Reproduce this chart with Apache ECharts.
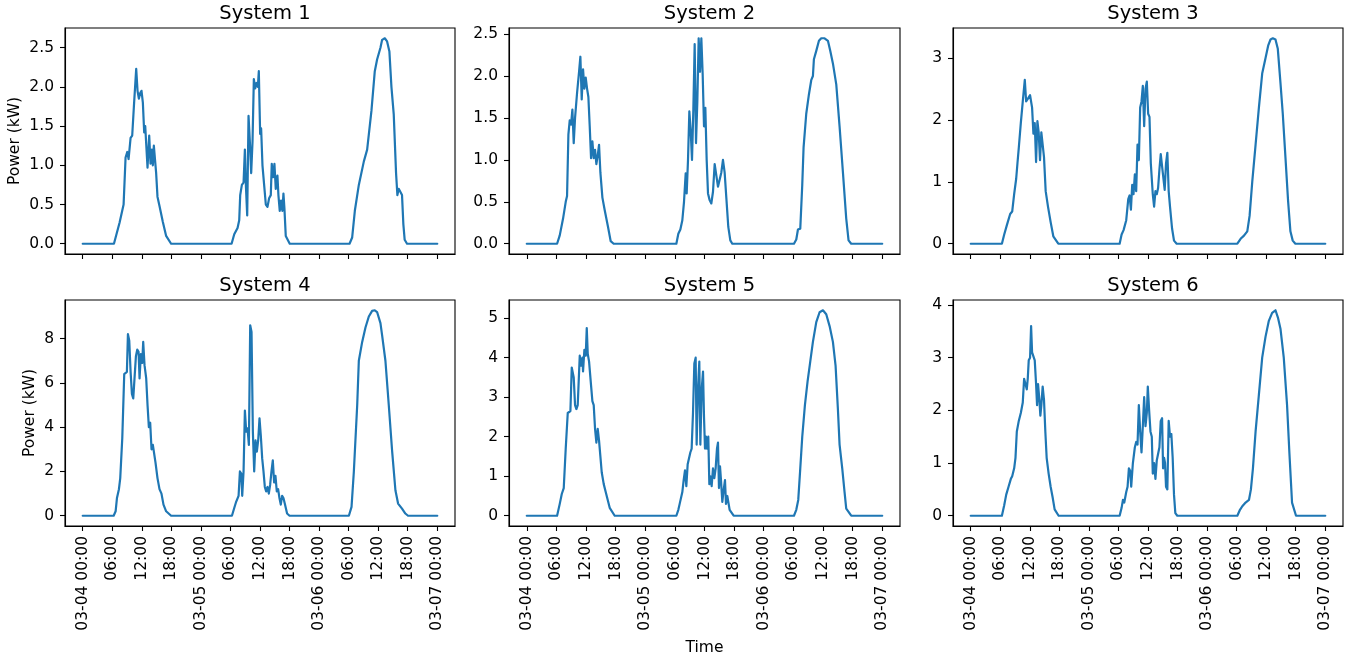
<!DOCTYPE html>
<html>
<head>
<meta charset="utf-8">
<script src="https://cdn.jsdelivr.net/npm/echarts@6/dist/echarts.min.js"></script>
<style>
html,body{margin:0;padding:0;background:#fff;}
#chart{width:1364px;height:660px;}
</style>
</head>
<body>
<div id="chart"></div>
<script>
// ---- DATA (hours since 03-04 00:00, power in kW) ----
const titles = ['System 1','System 2','System 3','System 4','System 5','System 6'];
const xTickHours = [0,6,12,18,24,30,36,42,48,54,60,66,72];
const xTickLabels = ['03-04 00:00','06:00','12:00','18:00','03-05 00:00','06:00','12:00','18:00','03-06 00:00','06:00','12:00','18:00','03-07 00:00'];
const yTicks1 = [0,0.5,1,1.5,2,2.5];
const yTicks2 = [0,0.5,1,1.5,2,2.5];
const yTicks3 = [0,1,2,3];
const yTicks4 = [0,2,4,6,8];
const yTicks5 = [0,1,2,3,4,5];
const yTicks6 = [0,1,2,3,4];
const yDecimals = [1,1,0,0,0,0];

const t1 = [0,6.34,7.49,8.30,8.70,9.04,9.31,9.72,10.05,10.39,10.86,11.13,11.40,11.67,11.94,12.21,12.48,12.69,12.96,13.16,13.50,13.77,14.04,14.24,14.44,14.71,14.91,15.18,15.59,16.26,16.94,17.95,
30.23,30.77,31.44,31.78,31.98,32.32,32.66,32.93,33.13,33.40,33.67,33.94,34.21,34.48,34.75,35.02,35.29,35.56,35.76,36.03,36.23,36.50,36.84,37.18,37.52,37.85,38.19,38.39,38.66,38.93,39.20,39.54,39.74,40.01,40.28,40.55,40.76,40.96,41.23,42.04,
54.18,54.72,55.26,56.07,57.09,57.76,58.64,59.31,59.78,60.46,60.80,61.34,61.81,62.28,62.69,63.16,63.63,63.90,64.17,64.51,64.84,65.11,65.38,65.86,66.19,72];
const p1 = [0,0,0.27,0.5,1.1,1.17,1.08,1.35,1.38,1.75,2.23,1.95,1.85,1.92,1.95,1.8,1.42,1.5,1.5,0.97,1.38,1.02,1.2,1.0,1.25,1.24,0.9,0.6,0.48,0.28,0.1,0,
0,0.12,0.2,0.3,0.62,0.75,0.78,1.2,0.75,0.36,1.63,1.3,0.9,1.3,2.1,1.98,2.05,2.0,2.2,1.4,1.47,1.0,0.75,0.5,0.47,0.58,0.62,1.02,0.85,1.02,0.7,0.87,0.62,0.42,0.55,0.42,0.64,0.45,0.1,0,
0,0.08,0.42,0.75,1.05,1.2,1.7,2.2,2.35,2.5,2.6,2.62,2.58,2.45,2.0,1.65,0.9,0.62,0.7,0.7,0.62,0.25,0.05,0,0,0];

const t2 = [0,6.14,6.68,7.35,7.89,8.16,8.43,8.70,8.97,9.24,9.51,9.78,10.19,10.59,10.86,11.13,11.40,11.67,11.94,12.21,12.48,12.75,13.02,13.29,13.56,13.83,14.10,14.37,14.64,14.91,15.32,15.79,16.46,17.0,17.6,
30.30,30.70,31.11,31.51,31.85,32.19,32.39,32.66,32.93,33.20,33.47,33.74,34.01,34.28,34.55,34.82,35.09,35.36,35.63,35.90,36.17,36.44,36.71,37.04,37.38,37.72,38.06,38.39,38.73,39.07,39.41,39.74,40.08,40.42,40.82,41.23,41.63,
54.12,54.59,54.93,55.40,55.80,56.07,56.61,57.15,57.62,57.96,58.16,58.64,59.18,59.65,60.32,61.00,61.47,62.01,62.69,63.36,64.04,64.71,65.18,65.72,72];
const p2 = [0,0,0.1,0.3,0.5,0.57,1.3,1.47,1.42,1.6,1.2,1.5,1.8,2.05,2.23,1.72,2.08,1.85,1.98,1.85,1.75,1.4,1.02,1.22,1.02,1.12,0.95,1.05,1.18,0.85,0.55,0.4,0.2,0.03,0,
0,0.12,0.17,0.28,0.5,0.84,0.6,1.0,1.58,1.35,1.0,1.6,2.38,1.2,1.7,2.45,2.05,2.45,2.02,1.4,1.62,1.0,0.6,0.52,0.48,0.62,0.95,0.95,0.68,0.7,0.85,1.0,0.85,0.55,0.2,0.04,0,
0,0.05,0.17,0.18,0.7,1.15,1.55,1.78,1.95,2.0,2.2,2.3,2.42,2.45,2.45,2.42,2.3,2.15,1.9,1.4,0.85,0.3,0.04,0,0];

const t3 = [0,6.33,6.80,7.34,8.01,8.42,8.82,9.23,9.49,9.76,10.17,10.57,10.98,11.25,11.65,12.05,12.46,12.73,13.00,13.27,13.54,13.80,14.07,14.34,14.61,14.88,15.22,15.69,16.23,16.77,17.78,
30.24,30.64,31.04,31.58,31.99,32.26,32.53,32.79,33.06,33.33,33.60,33.87,34.14,34.41,34.68,34.95,35.22,35.49,35.76,36.03,36.30,36.57,36.97,37.24,37.51,37.78,38.05,38.32,38.59,38.86,39.13,39.39,39.66,39.93,40.20,40.47,40.88,41.28,41.82,
54.14,54.81,55.49,56.16,56.63,57.17,57.85,58.52,59.19,59.87,60.40,60.88,61.35,61.89,62.36,62.90,63.37,63.91,64.44,64.92,65.39,65.93,72];
const p3 = [0,0,0.15,0.3,0.48,0.52,0.8,1.05,1.3,1.55,1.95,2.3,2.65,2.3,2.35,2.4,2.2,1.78,1.95,1.32,1.98,1.8,1.35,1.8,1.8,1.4,0.85,0.6,0.35,0.12,0,
0,0.15,0.22,0.38,0.72,0.78,0.55,0.95,0.8,1.12,0.85,1.6,1.35,2.2,2.3,2.55,1.9,2.5,2.62,2.1,2.05,1.3,0.8,0.6,0.85,0.8,0.9,1.2,1.45,1.25,1.22,0.87,1.3,1.47,0.85,0.6,0.25,0.05,0,
0,0.08,0.13,0.2,0.45,1.0,1.6,2.2,2.75,3.0,3.2,3.3,3.32,3.3,3.15,2.6,2.1,1.4,0.7,0.2,0.05,0,0];

const t4 = [0,6.28,6.68,6.95,7.35,7.62,8.03,8.43,8.70,8.97,9.18,9.45,9.72,9.99,10.26,10.53,10.80,11.07,11.34,11.54,11.81,12.08,12.28,12.55,12.89,13.16,13.43,13.70,13.97,14.24,14.51,14.78,15.18,15.59,15.99,16.40,16.94,17.95,
30.30,30.77,31.11,31.38,31.65,31.92,32.19,32.39,32.66,32.93,33.20,33.47,33.74,34.01,34.28,34.55,34.82,35.09,35.36,35.63,35.90,36.17,36.44,36.71,36.98,37.25,37.52,37.79,38.06,38.33,38.60,38.87,39.14,39.41,39.68,39.95,40.22,40.49,40.76,41.09,41.50,42.0,
54.05,54.59,55.06,55.74,56.07,56.75,57.42,58.10,58.77,59.31,59.78,60.46,60.80,61.47,62.15,62.82,63.50,64.04,64.84,65.52,66.06,72];
const p4 = [0,0,0.2,0.8,1.2,1.7,3.5,6.4,6.35,6.5,8.2,7.9,6.5,5.5,5.3,5.35,7.2,7.5,7.4,6.2,7.3,6.9,7.85,6.8,6.2,5.0,4.0,4.2,3.0,3.2,3.15,2.4,1.7,1.2,1.0,0.5,0.2,0,
0,0.35,0.6,0.55,0.9,2.0,1.9,0.9,2.0,4.75,3.8,3.95,3.2,8.6,8.3,3.8,2.0,3.4,2.9,3.4,4.4,3.6,2.6,2.0,1.3,1.1,1.3,1.0,1.4,2.0,2.5,1.5,1.8,1.1,1.2,0.8,0.5,0.9,0.8,0.5,0.1,0,
0,0.4,2.0,5.0,7.0,7.85,8.5,9.0,9.25,9.28,9.2,8.7,8.15,7.0,5.0,2.95,1.15,0.55,0.32,0.1,0,0];

const t5 = [0,6.14,6.68,7.09,7.49,7.89,8.30,8.57,8.84,9.11,9.51,9.78,10.05,10.32,10.73,11.00,11.27,11.40,11.67,11.94,12.15,12.35,12.62,13.02,13.29,13.56,13.83,14.10,14.37,14.64,14.91,15.18,15.59,15.99,16.40,16.80,17.81,
30.30,30.70,30.97,31.24,31.51,31.78,32.05,32.32,32.59,32.86,33.13,33.40,33.67,33.94,34.21,34.41,34.68,34.95,35.16,35.43,35.70,35.90,36.10,36.30,36.50,36.77,36.98,37.18,37.45,37.72,37.99,38.26,38.53,38.73,38.93,39.14,39.34,39.61,39.88,40.15,40.35,40.62,40.82,41.09,41.90,
54.12,54.59,54.99,55.40,55.80,56.34,56.88,57.42,57.96,58.64,59.31,59.99,60.66,61.34,62.01,62.55,63.02,63.36,63.90,64.37,64.71,65.18,65.72,72];
const p5 = [0,0,0.3,0.55,0.7,1.7,2.6,2.55,2.65,3.75,3.5,2.8,2.7,2.8,4.05,3.8,4.0,3.65,4.2,4.05,4.75,4.1,3.9,3.3,2.9,2.8,2.2,1.85,2.2,1.9,1.5,1.1,0.8,0.6,0.4,0.2,0,
0,0.15,0.3,0.35,0.6,0.9,1.15,0.75,1.3,1.35,1.6,1.7,2.6,3.85,4.0,1.8,3.2,3.9,1.8,3.2,3.65,2.5,1.7,2.0,1.7,2.0,0.8,1.0,0.75,1.2,0.95,1.2,1.7,1.85,0.7,1.25,0.9,0.35,0.65,0.9,0.3,0.5,0.35,0.15,0,
0,0.15,0.4,1.2,2.0,2.8,3.4,3.9,4.4,4.9,5.15,5.2,5.1,4.8,4.4,3.8,2.7,1.8,1.2,0.6,0.18,0.1,0,0];

const t6 = [0,6.33,6.80,7.21,7.68,8.15,8.42,8.82,9.09,9.36,9.76,10.17,10.57,10.84,11.11,11.38,11.58,11.78,12.05,12.26,12.46,12.73,13.00,13.27,13.47,13.67,13.94,14.14,14.34,14.61,14.88,15.15,15.42,15.82,16.23,16.63,17.04,17.85,
30.24,30.64,30.91,31.18,31.58,31.85,32.12,32.39,32.59,32.93,33.33,33.60,33.87,34.14,34.41,34.68,34.95,35.22,35.49,35.76,35.96,36.23,36.50,36.77,36.97,37.24,37.51,37.78,38.05,38.32,38.59,38.86,39.06,39.26,39.46,39.66,39.93,40.20,40.47,40.74,41.01,41.28,41.55,41.95,
54.14,54.61,55.15,55.82,56.50,56.90,57.31,57.85,58.52,59.19,59.87,60.54,61.21,61.89,62.42,62.90,63.57,64.24,64.71,65.25,66.06,72];
const p6 = [0,0,0.2,0.4,0.55,0.7,0.75,0.9,1.1,1.6,1.8,1.95,2.15,2.6,2.6,2.4,2.6,2.95,3.0,3.6,3.1,3.1,2.95,2.5,2.1,2.5,2.2,1.9,2.1,2.45,2.2,1.6,1.1,0.8,0.55,0.35,0.12,0,
0,0.15,0.3,0.25,0.45,0.55,0.9,0.85,0.55,1.0,1.3,1.4,1.35,2.1,1.6,1.2,1.7,2.25,1.7,1.95,2.45,2.0,1.6,1.5,0.8,1.0,0.7,1.05,1.05,1.3,1.8,1.85,0.9,1.1,1.0,0.55,0.5,1.8,1.5,1.55,1.1,0.4,0.05,0,
0,0.1,0.18,0.25,0.3,0.5,0.9,1.6,2.3,3.0,3.4,3.7,3.85,3.9,3.75,3.55,3.0,2.1,1.2,0.25,0,0];

// ---- BUILD ----
const times = [t1,t2,t3,t4,t5,t6];
const powers = [p1,p2,p3,p4,p5,p6];
const yTicks = [yTicks1,yTicks2,yTicks3,yTicks4,yTicks5,yTicks6];

const FONT = 'DejaVu Sans';
const TICK_FS = 15.5;
const gridBoxes = [
  {left:65, top:28, width:390, height:226},
  {left:509, top:28, width:391, height:226},
  {left:953, top:28, width:390, height:226},
  {left:65, top:300, width:390, height:226},
  {left:509, top:300, width:391, height:226},
  {left:953, top:300, width:390, height:226}
];

const chart = echarts.init(document.getElementById('chart'), null, {renderer:'canvas'});
const grid = [], xAxis = [], yAxis = [], series = [], title = [];
for (let i = 0; i < 6; i++) {
  const g = gridBoxes[i];
  grid.push({left:g.left, top:g.top, width:g.width, height:g.height, show:true,
    borderColor:'#000', borderWidth:1.1, backgroundColor:'transparent', containLabel:false});
  const n = Math.min(times[i].length, powers[i].length);
  const data = [];
  for (let k = 0; k < n; k++) data.push([times[i][k], powers[i][k]]);
  const vmax = Math.max.apply(null, powers[i].slice(0, n));
  const bottomRow = i >= 3;
  const dec = yDecimals[i];
  xAxis.push({
    type:'value', gridIndex:i, min:-3.6, max:75.6,
    splitLine:{show:false},
    axisLine:{show:true, onZero:false, lineStyle:{color:'#000', width:1.1}},
    axisTick:{show:true, length:5, customValues:xTickHours, lineStyle:{color:'#000', width:1.1}},
    axisLabel:{show:bottomRow, customValues:xTickHours, rotate:90, margin:10,
      fontFamily:FONT, fontSize:TICK_FS, color:'#000',
      formatter:function(v){ const idx = xTickHours.indexOf(Math.round(v)); return idx >= 0 ? xTickLabels[idx] : ''; }},
    name: i === 4 ? 'Time' : '', nameLocation:'middle', nameGap:114,
    nameTextStyle:{fontFamily:FONT, fontSize:TICK_FS, color:'#000'}
  });
  yAxis.push({
    type:'value', gridIndex:i, min:-0.05*vmax, max:1.05*vmax,
    splitLine:{show:false},
    axisLine:{show:true, onZero:false, lineStyle:{color:'#000', width:1.1}},
    axisTick:{show:true, length:5, customValues:yTicks[i], lineStyle:{color:'#000', width:1.1}},
    axisLabel:{show:true, customValues:yTicks[i], margin:11,
      fontFamily:FONT, fontSize:TICK_FS, color:'#000',
      formatter:function(v){ return Number(v).toFixed(dec); }},
    name: (i % 3 === 0) ? 'Power (kW)' : '', nameLocation:'middle',
    nameGap: i === 0 ? 42 : 27,
    nameTextStyle:{fontFamily:FONT, fontSize:TICK_FS, color:'#000'}
  });
  series.push({
    type:'line', xAxisIndex:i, yAxisIndex:i, data:data,
    showSymbol:false, symbol:'none', smooth:false,
    lineStyle:{color:'#1f77b4', width:2.2, join:'round', cap:'round'},
    clip:true, animation:false
  });
  title.push({
    text:titles[i], left:g.left + g.width/2, top:g.top - 29, textAlign:'center',
    textStyle:{fontFamily:FONT, fontSize:19.5, fontWeight:'normal', color:'#000'}
  });
}
chart.setOption({
  animation:false, backgroundColor:'#fff',
  title:title, grid:grid, xAxis:xAxis, yAxis:yAxis, series:series
});
</script>
</body>
</html>
